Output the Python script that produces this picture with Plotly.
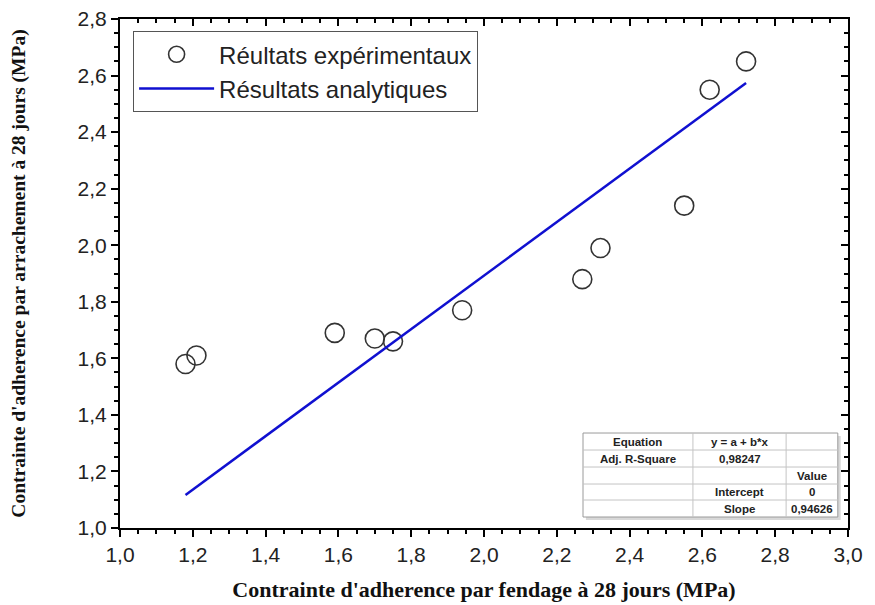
import plotly.graph_objects as go

# data
exp_x = [1.18, 1.21, 1.59, 1.70, 1.75, 1.94, 2.27, 2.32, 2.55, 2.62, 2.72]
exp_y = [1.58, 1.61, 1.69, 1.67, 1.66, 1.77, 1.88, 1.99, 2.14, 2.55, 2.65]
fit_x = [1.18, 2.72]
fit_y = [1.117, 2.574]
x_ticks = [1.0, 1.2, 1.4, 1.6, 1.8, 2.0, 2.2, 2.4, 2.6, 2.8, 3.0]
y_ticks = [1.0, 1.2, 1.4, 1.6, 1.8, 2.0, 2.2, 2.4, 2.6, 2.8]
table_rows = [
    ["Equation", "y = a + b*x", ""],
    ["Adj. R-Square", "0,98247", ""],
    ["", "", "Value"],
    ["", "Intercept", "0"],
    ["", "Slope", "0,94626"],
]

fig = go.Figure()
fig.add_trace(go.Scatter(
    x=exp_x, y=exp_y, mode="markers", name="Réultats expérimentaux",
    marker=dict(symbol="circle-open", size=19, color="#333333", line=dict(width=1.6)),
))
fig.add_trace(go.Scatter(
    x=fit_x, y=fit_y, mode="lines", name="Résultats analytiques",
    line=dict(color="#1010d0", width=2.5),
))
# invisible trace to create mirrored top/right axes
fig.add_trace(go.Scatter(x=[None], y=[None], xaxis="x2", yaxis="y2",
                         showlegend=False, hoverinfo="skip"))

# statistics table (paper coordinates)
col_edges = [0.636, 0.787, 0.915, 0.986]
row_edges = [0.1866, 0.1532, 0.1198, 0.0864, 0.0550, 0.0216]
shapes = []
shapes.append(dict(type="rect", xref="paper", yref="paper",
                   x0=col_edges[0] + 0.004, x1=col_edges[-1] + 0.004,
                   y0=row_edges[-1] - 0.006, y1=row_edges[0] - 0.006,
                   fillcolor="#d8d8d8", line=dict(width=0), layer="above"))
shapes.append(dict(type="rect", xref="paper", yref="paper",
                   x0=col_edges[0], x1=col_edges[-1], y0=row_edges[-1], y1=row_edges[0],
                   fillcolor="white", line=dict(color="#9a9a9a", width=1), layer="above"))
for yv in row_edges[1:-1]:
    shapes.append(dict(type="line", xref="paper", yref="paper",
                       x0=col_edges[0], x1=col_edges[-1], y0=yv, y1=yv,
                       line=dict(color="#c4c4c4", width=1), layer="above"))
for xv in col_edges[1:-1]:
    shapes.append(dict(type="line", xref="paper", yref="paper",
                       x0=xv, x1=xv, y0=row_edges[-1], y1=row_edges[0],
                       line=dict(color="#c4c4c4", width=1), layer="above"))
annotations = []
for r, row in enumerate(table_rows):
    yc = (row_edges[r] + row_edges[r + 1]) / 2
    for c, txt in enumerate(row):
        if not txt:
            continue
        xc = (col_edges[c] + col_edges[c + 1]) / 2
        annotations.append(dict(xref="paper", yref="paper", x=xc, y=yc, text="<b>%s</b>" % txt,
                                showarrow=False, xanchor="center", yanchor="middle",
                                font=dict(family="Liberation Sans, Arial", size=11.5, color="#222222")))

tickfont = dict(family="Liberation Sans, Arial", size=21, color="#222222")
titlefont = dict(family="Liberation Serif, Times New Roman", size=22, color="#111111")

common = dict(showgrid=False, zeroline=False, showline=True, linecolor="black", linewidth=2,
              tickcolor="black", tickwidth=1.5, ticklen=7, automargin=False,
              ticklabeloverflow="allow")

fig.update_layout(
    width=867, height=597,
    margin=dict(l=112, r=27, t=11, b=77),
    plot_bgcolor="white", paper_bgcolor="white",
    separators=", ",
    showlegend=True,
    shapes=shapes, annotations=annotations,
    legend=dict(x=0.018, y=0.976, xanchor="left", yanchor="top",
                bordercolor="#555555", borderwidth=1, bgcolor="white",
                font=dict(family="Liberation Sans, Arial", size=24, color="#222222"),
                itemwidth=75, tracegroupgap=0),
    xaxis=dict(range=[1.0, 3.0], tickvals=x_ticks, tickformat=".1f", ticks="outside",
               tickfont=tickfont,
               minor=dict(dtick=0.05, ticks="outside", ticklen=4, tickcolor="black", tickwidth=1.5),
               title=dict(text="<b>Contrainte d'adherence par fendage à 28 jours (MPa)</b>",
                          font=titlefont, standoff=16),
               **common),
    yaxis=dict(range=[1.0, 2.8], tickvals=y_ticks, tickformat=".1f", ticks="outside",
               tickfont=tickfont,
               minor=dict(dtick=0.05, ticks="outside", ticklen=4, tickcolor="black", tickwidth=1.5),
               title=dict(text="<b>Contrainte d'adherence par arrachement à 28 jours (MPa)</b>",
                          font=dict(family="Liberation Serif, Times New Roman", size=19.5, color="#111111"),
                          standoff=54),
               **common),
    xaxis2=dict(range=[1.0, 3.0], overlaying="x", side="top", tickvals=x_ticks, ticks="inside",
                showticklabels=False,
                minor=dict(dtick=0.05, ticks="inside", ticklen=4, tickcolor="black", tickwidth=1.5),
                **common),
    yaxis2=dict(range=[1.0, 2.8], overlaying="y", side="right", tickvals=y_ticks, ticks="inside",
                showticklabels=False,
                minor=dict(dtick=0.05, ticks="inside", ticklen=4, tickcolor="black", tickwidth=1.5),
                **common),
)

fig.write_html("out.html")
